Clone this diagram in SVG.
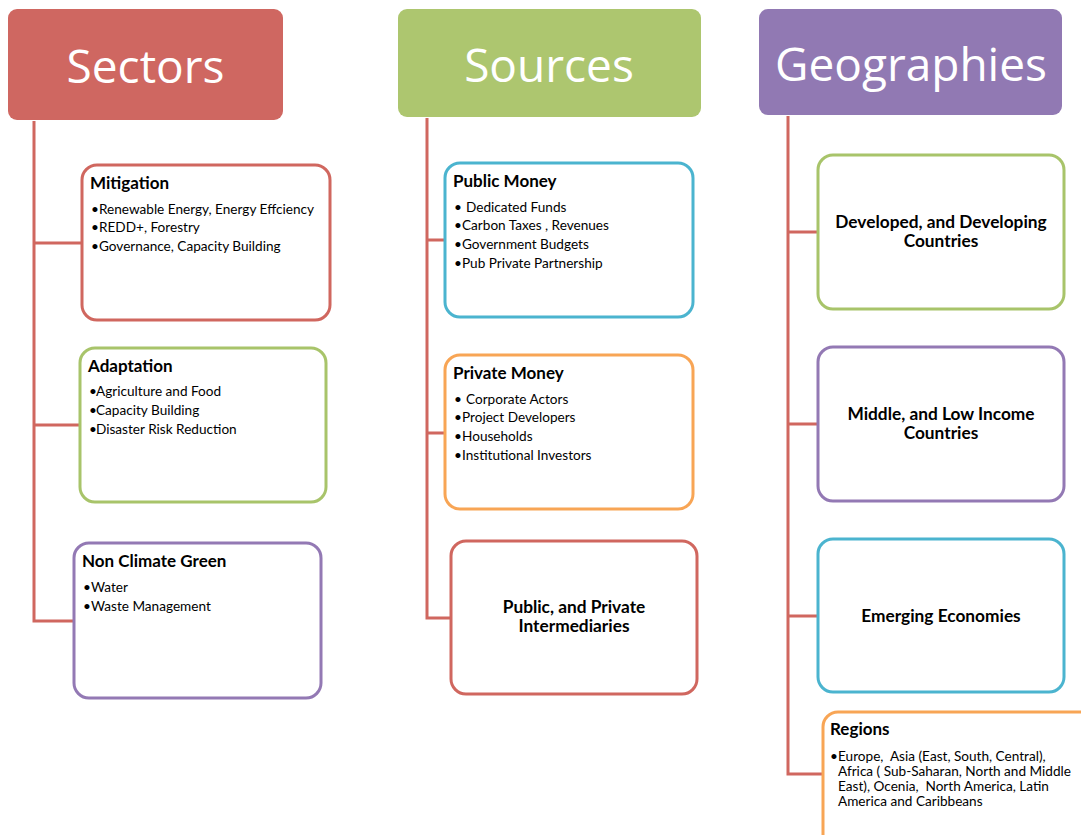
<svg xmlns="http://www.w3.org/2000/svg" width="1081" height="835" viewBox="0 0 1081 835">
<style>
.hdr{font-family:"Open Sans","Liberation Sans",sans-serif;font-size:46px;fill:#ffffff;text-anchor:middle}
.box{fill:#ffffff;stroke-width:3}
.ttl{font-family:Lato,"Liberation Sans",sans-serif;font-weight:bold;font-size:17px;fill:#000000}
.ctr{font-family:Lato,"Liberation Sans",sans-serif;font-weight:bold;font-size:17.3px;fill:#000000;text-anchor:middle}
.itm{font-family:Lato,"Liberation Sans",sans-serif;font-size:13.6px;fill:#000000;white-space:pre}
.con{fill:none;stroke:#D0675F;stroke-width:3}
.red{stroke:#D0675F}.grn{stroke:#A8C46A}.pur{stroke:#9379B4}.cyn{stroke:#4BB4CF}.org{stroke:#F8A555}
</style>
<rect width="1081" height="835" fill="#ffffff"/>
<g id="connectors">
<path class="con" d="M34 121 V621 H74 M34 243 H82 M34 425 H80"/>
<path class="con" d="M427 118 V618 H451 M427 240 H445 M427 433 H445"/>
<path class="con" d="M788 116 V774 H823 M788 232 H818 M788 424 H818 M788 616 H818"/>
</g>
<g id="sectors">
<rect x="8" y="9" width="275" height="111" rx="9" fill="#CF6761"/>
<text class="hdr" x="145.5" y="83">Sectors</text>
</g>
<g id="sources">
<rect x="398" y="9" width="303" height="108" rx="9" fill="#ADC66F"/>
<text class="hdr" x="549" y="82">Sources</text>
</g>
<g id="geographies">
<rect x="759" y="9" width="303" height="106" rx="9" fill="#9179B3"/>
<text class="hdr" x="911" y="81">Geographies</text>
</g>
<g id="mitigation">
<rect class="box red" x="82" y="165" width="248" height="155" rx="15"/>
<text class="ttl" x="90" y="189">Mitigation</text>
<text class="itm" y="214"><tspan x="91">•</tspan><tspan x="99">Renewable Energy, Energy Effciency</tspan></text>
<text class="itm" y="232"><tspan x="91">•</tspan><tspan x="99">REDD+, Forestry</tspan></text>
<text class="itm" y="251"><tspan x="91">•</tspan><tspan x="99">Governance, Capacity Building</tspan></text>
</g>
<g id="adaptation">
<rect class="box grn" x="80" y="348" width="246" height="154" rx="15"/>
<text class="ttl" x="88" y="372">Adaptation</text>
<text class="itm" y="396"><tspan x="89">•</tspan><tspan x="96">Agriculture and Food</tspan></text>
<text class="itm" y="415"><tspan x="89">•</tspan><tspan x="96">Capacity Building</tspan></text>
<text class="itm" y="434"><tspan x="89">•</tspan><tspan x="96">Disaster Risk Reduction</tspan></text>
</g>
<g id="non-climate-green">
<rect class="box pur" x="74" y="543" width="247" height="155" rx="15"/>
<text class="ttl" x="82" y="567">Non Climate Green</text>
<text class="itm" y="592"><tspan x="83">•</tspan><tspan x="91">Water</tspan></text>
<text class="itm" y="611"><tspan x="83">•</tspan><tspan x="91">Waste Management</tspan></text>
</g>
<g id="public-money">
<rect class="box cyn" x="445" y="163" width="248" height="154" rx="15"/>
<text class="ttl" x="453" y="187">Public Money</text>
<text class="itm" y="212"><tspan x="454">•</tspan><tspan x="466">Dedicated Funds</tspan></text>
<text class="itm" y="230"><tspan x="454">•</tspan><tspan x="462">Carbon Taxes , Revenues</tspan></text>
<text class="itm" y="249"><tspan x="454">•</tspan><tspan x="462">Government Budgets</tspan></text>
<text class="itm" y="268"><tspan x="454">•</tspan><tspan x="462">Pub Private Partnership</tspan></text>
</g>
<g id="private-money">
<rect class="box org" x="445" y="355" width="248" height="154" rx="15"/>
<text class="ttl" x="453" y="379">Private Money</text>
<text class="itm" y="404"><tspan x="454">•</tspan><tspan x="466">Corporate Actors</tspan></text>
<text class="itm" y="422"><tspan x="454">•</tspan><tspan x="462">Project Developers</tspan></text>
<text class="itm" y="441"><tspan x="454">•</tspan><tspan x="462">Households</tspan></text>
<text class="itm" y="460"><tspan x="454">•</tspan><tspan x="462">Institutional Investors</tspan></text>
</g>
<g id="intermediaries">
<rect class="box red" x="451" y="541" width="246" height="153" rx="15"/>
<text class="ctr" x="574" y="613">Public, and Private</text>
<text class="ctr" x="574" y="632">Intermediaries</text>
</g>
<g id="developed">
<rect class="box grn" x="818" y="155" width="246" height="154" rx="15"/>
<text class="ctr" x="941" y="228">Developed, and Developing</text>
<text class="ctr" x="941" y="247">Countries</text>
</g>
<g id="middle-low">
<rect class="box pur" x="818" y="347" width="246" height="154" rx="15"/>
<text class="ctr" x="941" y="420">Middle, and Low Income</text>
<text class="ctr" x="941" y="439">Countries</text>
</g>
<g id="emerging">
<rect class="box cyn" x="818" y="539" width="246" height="153" rx="15"/>
<text class="ctr" x="941" y="622">Emerging Economies</text>
</g>
<g id="regions">
<rect class="box org" x="823" y="712" width="300" height="200" rx="15"/>
<text class="ttl" x="830" y="735">Regions</text>
<text class="itm" y="761"><tspan x="830">•</tspan><tspan x="838">Europe,  Asia (East, South, Central),</tspan></text>
<text class="itm" x="838" y="776">Africa ( Sub-Saharan, North and Middle</text>
<text class="itm" x="838" y="791">East), Ocenia,  North America, Latin</text>
<text class="itm" x="838" y="806">America and Caribbeans</text>
</g>
</svg>
